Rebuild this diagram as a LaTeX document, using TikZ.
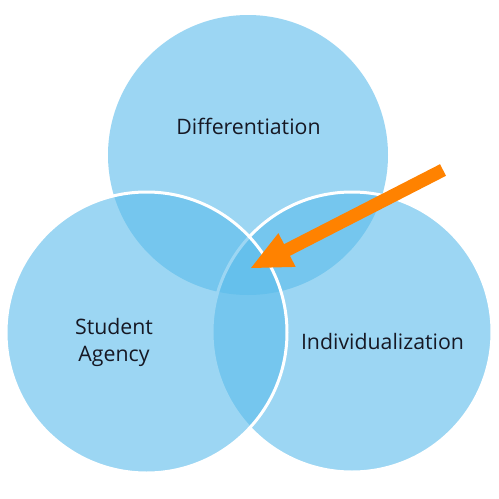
\documentclass[tikz,border=0pt]{standalone}
\usepackage{fontspec}
\setmainfont{Open Sans}
\definecolor{vennblue}{RGB}{91,188,235}
\definecolor{arroworange}{RGB}{255,130,0}
\definecolor{labelink}{RGB}{22,24,36}
\tikzset{
  venn/.style={fill=vennblue, fill opacity=0.6},
  vennedge/.style={venn, draw=white, line width=3pt},
  vlabel/.style={text=labelink, font=\fontsize{21.3}{27}\selectfont, align=center, inner sep=0pt}
}
\begin{document}
\begin{tikzpicture}[x=1pt,y=-1pt]
\useasboundingbox (0,0) rectangle (499,499);
\fill[white] (0,0) rectangle (499,499);
% circles
\path[venn] (248,155) circle[radius=140];
\path[vennedge] (352,332) circle[radius=140];
\path[vennedge] (146.5,332.5) circle[radius=140.5];
% labels
\node[vlabel] (diff) at (248.5,126) {Differentiation};
\node[vlabel] (agency) at (114,342) {Student\\Agency};
\node[vlabel] (indiv) at (382.5,342) {Individualization};
% arrow
\fill[arroworange] (440,164.2) -- (446,175.8) -- (290,255.8) -- (295.6,266.9) -- (251,268) -- (278.4,233.1) -- (284,244.2) -- cycle;
\end{tikzpicture}
\end{document}
